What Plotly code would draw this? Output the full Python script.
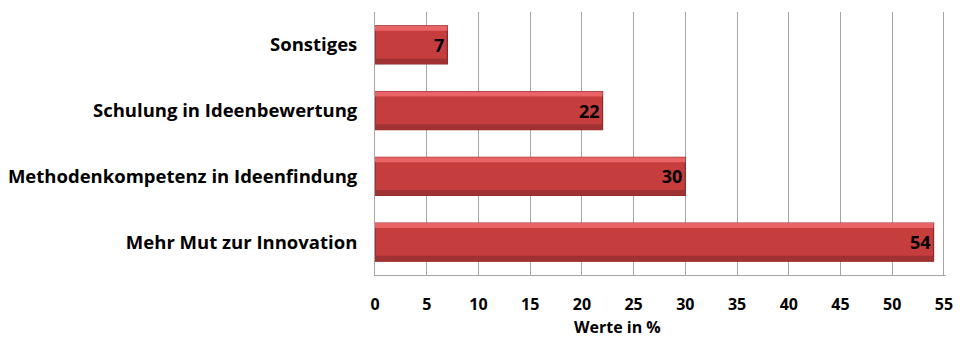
import plotly.graph_objects as go

categories = ["Mehr Mut zur Innovation", "Methodenkompetenz in Ideenfindung",
              "Schulung in Ideenbewertung", "Sonstiges"]
values = [54, 30, 22, 7]
tick_vals = [0, 5, 10, 15, 20, 25, 30, 35, 40, 45, 50, 55]
x_title = "Werte in %"

FONT = "Open Sans, sans-serif"
BAR_W = 0.58

fig = go.Figure()
# main bar
fig.add_trace(go.Bar(
    y=categories, x=values, orientation="h", width=BAR_W,
    marker=dict(color="#C53E3D", line=dict(color="#8E2526", width=1.2)),
    text=[str(v) for v in values], textposition="inside", insidetextanchor="end",
    textfont=dict(family=FONT, size=18, color="#000000", weight="bold"),
    hoverinfo="skip", showlegend=False,
))
# lower darker shade
fig.add_trace(go.Bar(
    y=categories, x=values, orientation="h", width=BAR_W * 0.14, offset=-BAR_W / 2,
    marker=dict(color="#A13233", line=dict(width=0)),
    hoverinfo="skip", showlegend=False,
))
# top highlight
fig.add_trace(go.Bar(
    y=categories, x=values, orientation="h", width=BAR_W * 0.13, offset=BAR_W / 2 - BAR_W * 0.13,
    marker=dict(color="#E86466", line=dict(width=0)),
    hoverinfo="skip", showlegend=False,
))

fig.add_annotation(
    text="<b>" + x_title + "</b>", xref="paper", yref="paper", x=0.424, y=0,
    xanchor="center", yanchor="middle", yshift=-52, showarrow=False,
    font=dict(family=FONT, size=16, color="#000000"),
)

fig.update_layout(
    width=964, height=338,
    margin=dict(l=375, r=18, t=12, b=63, autoexpand=False),
    paper_bgcolor="white", plot_bgcolor="white",
    barmode="overlay",
    font=dict(family=FONT, size=16, color="#000000"),
    xaxis=dict(
        range=[0, 55.2], tickvals=tick_vals, showgrid=True, gridcolor="#A6A6A6", gridwidth=1,
        zeroline=False, showline=True, linecolor="#A6A6A6", mirror=False,
        ticks="", ticklabelstandoff=15, automargin=False,
        tickfont=dict(family=FONT, size=16, color="#000000", weight="bold"),
        fixedrange=True,
    ),
    yaxis=dict(
        categoryorder="array", categoryarray=categories,
        showgrid=False, zeroline=False, showline=True, linecolor="#A6A6A6",
        ticks="", ticklabelstandoff=13, automargin=False,
        tickfont=dict(family=FONT, size=18.5, color="#000000", weight="bold"),
        fixedrange=True,
    ),
)

fig.write_html("out.html")
